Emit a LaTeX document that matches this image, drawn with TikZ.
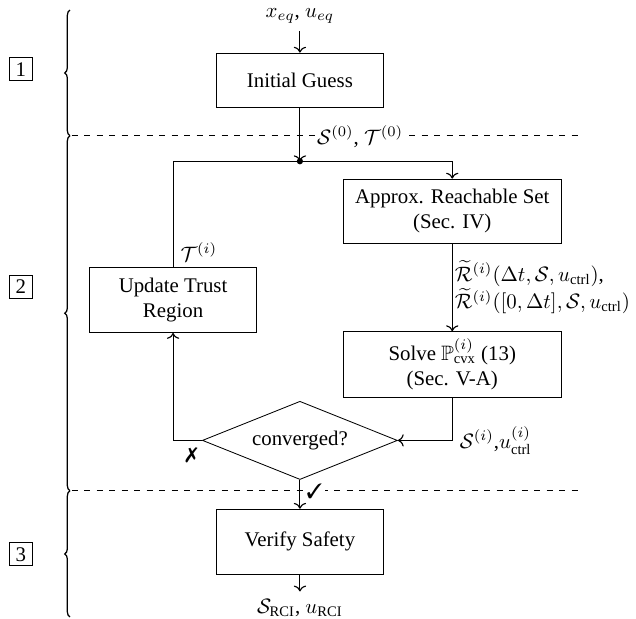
\documentclass[tikz,border=0pt]{standalone}
\usepackage{fontspec}
\setmainfont{Liberation Serif}
\usepackage{amssymb}
\usepackage{pifont}
\usetikzlibrary{arrows.meta,positioning,calc,shapes.geometric,decorations.pathreplacing}

\begin{document}
\begin{tikzpicture}[
    box/.style={rectangle, draw, thin, fill=white, minimum width=2.82cm, minimum height=1.1cm, align=center},
    wide/.style={box, minimum width=3.67cm, minimum height=1.08cm},
    test/.style={diamond, draw, thin, fill=white, minimum width=3.29cm, minimum height=1.32cm, inner sep=1pt, aspect=2.5},
    stage/.style={rectangle, draw, thin, minimum size=0.39cm, inner sep=1pt},
    flow/.style={->, line width=0.55pt},
    split/.style={dashed, thin},
    phase/.style={decorate, decoration={brace, amplitude=2.5pt}, semithick}]

    \useasboundingbox (0,0) rectangle (10.73,-10.44);

    % Phase separators
    \coordinate (cutAw) at (1.21,-2.29);
    \coordinate (cutAe) at (9.77,-2.29);
    \coordinate (cutBw) at (1.21,-8.28);
    \coordinate (cutBe) at (9.80,-8.28);
    \draw[split] (cutAw) -- (cutAe);
    \draw[split] (cutBw) -- (cutBe);

    % Braces and phase numbers
    \coordinate (brTop) at (1.18,-0.17);
    \coordinate (brA) at (1.18,-2.29);
    \coordinate (brB) at (1.18,-8.28);
    \coordinate (brBot) at (1.18,-10.41);
    \draw[phase] (brA) -- (brTop);
    \draw[phase] (brB) -- (brA);
    \draw[phase] (brBot) -- (brB);
    \node[stage] (ph1) at (0.35,-1.17) {1};
    \node[stage] (ph2) at (0.35,-4.84) {2};
    \node[stage] (ph3) at (0.35,-9.35) {3};

    % Phase 1: initial guess
    \node (eq) at (5.06,-0.27) {$x_{eq}$, $u_{eq}$};
    \node[box, minimum height=0.91cm] (guess) at (5.06,-1.35) {Initial Guess};

    % Phase 2: iteration
    \coordinate (join) at (5.06,-2.72);
    \node[wide] (reach) at (7.63,-3.56) {Approx. Reachable Set\\(Sec. IV)};
    \node[wide, minimum height=1.11cm] (solve) at (7.63,-6.15) {Solve $\mathbb{P}^{(i)}_{\mathrm{cvx}}$ (13)\\(Sec. V-A)};
    \node[box] (trust) at (2.92,-5.06) {Update Trust\\Region};
    \node[test] (conv) at (5.06,-7.43) {converged?};

    % Phase 3: verification
    \node[box] (verify) at (5.06,-9.14) {Verify Safety};
    \node (rci) at (5.06,-10.25) {$\mathcal{S}_{\mathrm{RCI}}$, $u_{\mathrm{RCI}}$};

    % Arrows
    \draw[flow] (eq) -- (guess);
    \draw[flow] (guess) -- (join) node[pos=0.54, right=7pt, fill=white, inner sep=1pt] {$\mathcal{S}^{(0)}$, $\mathcal{T}^{(0)}$};
    \fill (join) circle (1.5pt);
    \draw[flow] (trust) |- (join) node[pos=0.07, right] {$\mathcal{T}^{(i)}$} -| (reach);
    \draw[flow] (reach) -- (solve) node[midway, right, inner sep=1pt, align=left] {$\widetilde{\mathcal{R}}^{(i)}(\Delta t, \mathcal{S}, u_{\mathrm{ctrl}})$,\\$\widetilde{\mathcal{R}}^{(i)}([0, \Delta t], \mathcal{S}, u_{\mathrm{ctrl}})$};
    \draw[flow] (solve) |- (conv) node[pos=0.5, right] {$\mathcal{S}^{(i)}$,$u^{(i)}_{\mathrm{ctrl}}$};
    \draw[flow] (conv) -| (trust) node[pos=0.18, below] {\ding{55}};
    \draw[flow] (conv) -- (verify) node[pos=0.4, right=2pt, fill=white, inner sep=1pt] {\ding{51}};
    \draw[flow] (verify) -- (rci);

\end{tikzpicture}
\end{document}
